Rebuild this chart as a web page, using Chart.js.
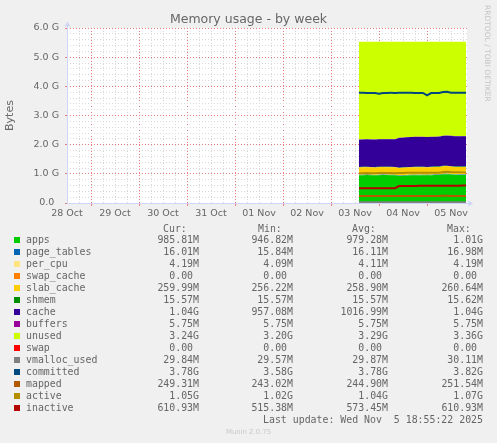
<!DOCTYPE html>
<html>
<head>
<meta charset="utf-8">
<script src="https://cdn.jsdelivr.net/npm/chart.js@4.4.1/dist/chart.umd.min.js"></script>
<style>
body{margin:0;background:#f0f0f0;width:497px;height:443px;overflow:hidden;position:relative;font-family:"DejaVu Sans",sans-serif;color:#666}
#graph{position:absolute;left:0;top:0}
.t{position:absolute;white-space:pre}
.title{left:0;width:497px;top:11px;text-align:center;font-size:12.5px;line-height:16px;color:#666}
.rrd{left:483px;top:5px;writing-mode:vertical-rl;font-size:7.5px;line-height:9px;color:#c4c4c4}
.mono{font-family:"DejaVu Sans Mono",monospace;font-size:9.9px;line-height:12px;color:#666}
.sq{position:absolute;width:6px;height:6px}
.ver{left:0;width:497px;top:427px;text-align:center;font-size:6.9px;line-height:10px;color:#c8c8c8}
</style>
</head>
<body>
<canvas id="graph" width="497" height="225"></canvas>
<div class="t title">Memory usage - by week</div>
<div class="t rrd">RRDTOOL / TOBI OETIKER</div>
<div id="legend"></div>
<div class="t ver">Munin 2.0.75</div>
<script>
// hours since 28 Oct 00:00
var times = [158,160,162,164,166,168,170,172,174,176,178,180,182,184,186,188,190,192,194,196,198,200,202,204,206,208,210,211.5];

// values in G (1024^3 bytes)
var apps = [0.950,0.955,0.958,0.952,0.948,0.955,0.960,0.957,0.953,0.950,0.925,0.935,0.945,0.950,0.952,0.955,0.953,0.950,0.955,0.958,0.960,0.985,0.990,0.975,0.965,0.962,0.963,0.963];
var pageTables = [0.0155,0.0156,0.0157,0.0156,0.0155,0.0158,0.0160,0.0157,0.0156,0.0155,0.0157,0.0158,0.0160,0.0162,0.0158,0.0157,0.0156,0.0158,0.0159,0.0160,0.0163,0.0166,0.0162,0.0158,0.0157,0.0156,0.0156,0.0156];
var perCpu = [0.0040,0.0040,0.0040,0.0040,0.0040,0.0040,0.0040,0.0040,0.0040,0.0040,0.0040,0.0040,0.0040,0.0040,0.0040,0.0040,0.0040,0.0040,0.0040,0.0040,0.0040,0.0040,0.0040,0.0040,0.0040,0.0041,0.0041,0.0041];
var swapCache = [0,0,0,0,0,0,0,0,0,0,0,0,0,0,0,0,0,0,0,0,0,0,0,0,0,0,0,0];
var slabCache = [0.2503,0.2505,0.2508,0.2510,0.2512,0.2515,0.2518,0.2520,0.2522,0.2525,0.2528,0.2530,0.2532,0.2530,0.2528,0.2530,0.2533,0.2535,0.2537,0.2540,0.2542,0.2545,0.2543,0.2540,0.2538,0.2538,0.2539,0.2539];
var shmem = [0.0152,0.0152,0.0152,0.0152,0.0152,0.0152,0.0152,0.0152,0.0152,0.0152,0.0152,0.0152,0.0152,0.0152,0.0152,0.0152,0.0153,0.0152,0.0152,0.0152,0.0152,0.0152,0.0152,0.0152,0.0152,0.0152,0.0152,0.0152];
var cache = [0.935,0.937,0.938,0.940,0.940,0.942,0.943,0.944,0.945,0.946,1.015,1.018,1.020,1.021,1.022,1.023,1.024,1.022,1.020,1.021,1.024,1.027,1.030,1.032,1.034,1.036,1.038,1.040];
var buffers = [0.0056,0.0056,0.0056,0.0056,0.0056,0.0056,0.0056,0.0056,0.0056,0.0056,0.0056,0.0056,0.0056,0.0056,0.0056,0.0056,0.0056,0.0056,0.0056,0.0056,0.0056,0.0056,0.0056,0.0056,0.0056,0.0056,0.0056,0.0056];
var unused = [3.354,3.347,3.343,3.347,3.350,3.341,3.335,3.337,3.339,3.341,3.297,3.284,3.271,3.266,3.263,3.259,3.259,3.264,3.261,3.257,3.251,3.223,3.215,3.229,3.237,3.238,3.235,3.233];
var swap = [0,0,0,0,0,0,0,0,0,0,0,0,0,0,0,0,0,0,0,0,0,0,0,0,0,0,0,0];
var vmallocUsed = [0.0289,0.0290,0.0291,0.0291,0.0292,0.0292,0.0291,0.0290,0.0291,0.0292,0.0292,0.0293,0.0294,0.0292,0.0291,0.0291,0.0292,0.0292,0.0291,0.0291,0.0292,0.0293,0.0294,0.0292,0.0291,0.0291,0.0291,0.0291];
var committed = [3.780,3.778,3.775,3.772,3.770,3.745,3.772,3.775,3.776,3.775,3.778,3.780,3.778,3.776,3.775,3.774,3.772,3.690,3.770,3.772,3.775,3.805,3.810,3.780,3.778,3.776,3.778,3.780];
var mapped = [0.2373,0.2375,0.2378,0.2380,0.2382,0.2385,0.2388,0.2390,0.2392,0.2395,0.2398,0.2400,0.2402,0.2400,0.2398,0.2400,0.2402,0.2405,0.2408,0.2410,0.2412,0.2450,0.2456,0.2440,0.2436,0.2435,0.2435,0.2435];
var active = [1.020,1.022,1.025,1.024,1.022,1.025,1.028,1.027,1.025,1.024,1.030,1.032,1.035,1.036,1.036,1.037,1.036,1.035,1.036,1.038,1.040,1.065,1.070,1.060,1.055,1.052,1.050,1.050];
var inactive = [0.503,0.504,0.505,0.505,0.506,0.506,0.507,0.507,0.508,0.508,0.580,0.583,0.585,0.586,0.587,0.588,0.589,0.589,0.590,0.591,0.592,0.593,0.594,0.594,0.595,0.595,0.596,0.5966];

var dayLabels = ['28 Oct','29 Oct','30 Oct','31 Oct','01 Nov','02 Nov','03 Nov','04 Nov','05 Nov'];

var names = ['apps','page_tables','per_cpu','swap_cache','slab_cache','shmem','cache','buffers','unused','swap','vmalloc_used','committed','mapped','active','inactive'];
var colors = ['#00CC00','#0066B3','#FFE480','#FF8000','#FFCC00','#008F00','#330099','#990099','#CCFF00','#FF0000','#808080','#00487D','#B35A00','#B38F00','#B30000'];
var curVals = ['985.81M','16.01M','4.19M','0.00 ','259.99M','15.57M','1.04G','5.75M','3.24G','0.00 ','29.84M','3.78G','249.31M','1.05G','610.93M'];
var minVals = ['946.82M','15.84M','4.09M','0.00 ','256.22M','15.57M','957.08M','5.75M','3.20G','0.00 ','29.57M','3.58G','243.02M','1.02G','515.38M'];
var avgVals = ['979.28M','16.11M','4.11M','0.00 ','258.90M','15.57M','1016.99M','5.75M','3.29G','0.00 ','29.87M','3.78G','244.90M','1.04G','573.45M'];
var maxVals = ['1.01G','16.98M','4.19M','0.00 ','260.64M','15.62M','1.04G','5.75M','3.36G','0.00 ','30.11M','3.82G','251.54M','1.07G','610.93M'];

var areaSeries = [apps, pageTables, perCpu, swapCache, slabCache, shmem, cache, buffers, unused, swap];
var lineSeries = [vmallocUsed, committed, mapped, active, inactive];

function points(vals) {
    return vals.map((v, i) => ({x: times[i], y: v}));
}

var datasets = [];
areaSeries.forEach((vals, i) => {
    datasets.push({
        label: names[i],
        data: points(vals),
        stack: 'mem',
        fill: i === 0 ? 'origin' : '-1',
        backgroundColor: colors[i],
        borderColor: colors[i],
        borderWidth: 0,
        pointRadius: 0
    });
});
lineSeries.forEach((vals, j) => {
    var i = j + areaSeries.length;
    datasets.push({
        label: names[i],
        data: points(vals),
        stack: 'line' + j,
        fill: false,
        borderColor: colors[i],
        borderWidth: 2,
        pointRadius: 0,
        order: -1 - j
    });
});

var xTicks = [];
for (var h = 12; h <= 210; h += 6) xTicks.push(h);
var yTicks = [];
for (var k = 0; k <= 30; k++) yTicks.push(k / 5);

var MAJOR = 'rgb(230,125,125)';
var MINOR = '#d9d9d9';
var AXIS = '#CFD6F8';

function isMajorY(ctx) {
    return ctx.tick && Math.abs(ctx.tick.value - Math.round(ctx.tick.value)) < 1e-6;
}
function isMajorX(ctx) {
    return ctx.tick && Math.round(ctx.tick.value) % 24 === 0;
}

var frame = {
    id: 'frame',
    beforeDraw(chart) {
        var a = chart.chartArea, c = chart.ctx;
        c.save();
        c.fillStyle = '#ffffff';
        c.fillRect(a.left, a.top, a.right - a.left, a.bottom - a.top);
        c.restore();
    },
    afterDraw(chart) {
        var a = chart.chartArea, c = chart.ctx;
        c.save();
        c.strokeStyle = AXIS;
        c.fillStyle = AXIS;
        c.lineWidth = 1;
        c.beginPath();
        c.moveTo(a.left + 0.5, a.bottom);
        c.lineTo(a.left + 0.5, a.top - 2);
        c.moveTo(a.left, a.bottom + 0.5);
        c.lineTo(a.right + 2, a.bottom + 0.5);
        c.stroke();
        c.beginPath();
        c.moveTo(a.left + 0.5, a.top - 6.5);
        c.lineTo(a.left - 2.5, a.top - 1.5);
        c.lineTo(a.left + 3.5, a.top - 1.5);
        c.closePath();
        c.fill();
        c.beginPath();
        c.moveTo(a.right + 6, a.bottom + 0.5);
        c.lineTo(a.right + 1.5, a.bottom - 2.5);
        c.lineTo(a.right + 1.5, a.bottom + 3.5);
        c.closePath();
        c.fill();
        c.restore();
    }
};

var tickFont = {family: 'DejaVu Sans', size: 9.5};

new Chart(document.getElementById('graph').getContext('2d'), {
    type: 'line',
    data: {datasets: datasets},
    options: {
        responsive: false,
        animation: false,
        layout: {padding: {top: 28, right: 30, left: 0, bottom: 0}},
        plugins: {legend: {display: false}, tooltip: {enabled: false}},
        scales: {
            x: {
                type: 'linear', min: 12, max: 212, z: 1,
                afterFit: s => { s.height = 22; },
                afterBuildTicks: s => { s.ticks = xTicks.map(v => ({value: v})); },
                grid: {
                    color: ctx => isMajorX(ctx) ? MAJOR : MINOR,
                    tickColor: ctx => isMajorX(ctx) ? MAJOR : 'rgba(0,0,0,0)',
                    tickLength: 3,
                    lineWidth: 1
                },
                border: {display: false, dash: [1, 2]},
                ticks: {
                    autoSkip: false, maxRotation: 0, padding: 2, color: '#666', font: tickFont,
                    callback: v => (v - 12) % 24 === 0 ? dayLabels[(v - 12) / 24] : ''
                }
            },
            y: {
                stacked: true, min: 0, max: 6, z: 1,
                afterFit: s => { s.width = 67; },
                afterBuildTicks: s => { s.ticks = yTicks.map(v => ({value: v})); },
                grid: {
                    color: ctx => isMajorY(ctx) ? MAJOR : MINOR,
                    tickColor: ctx => isMajorY(ctx) ? MAJOR : 'rgba(0,0,0,0)',
                    tickLength: 2,
                    lineWidth: 1
                },
                border: {display: false, dash: [1, 2]},
                title: {display: true, text: 'Bytes', color: '#666', font: {family: 'DejaVu Sans', size: 11}},
                ticks: {
                    autoSkip: false, padding: 6, color: '#666', font: tickFont,
                    callback: v => {
                        if (Math.abs(v - Math.round(v)) > 1e-6) return '';
                        return v === 0 ? '0.0\u2002' : v.toFixed(1) + ' G';
                    }
                }
            }
        }
    },
    plugins: [frame]
});

// legend table below the graph
var legend = document.getElementById('legend');
function addText(cls, text, style) {
    var d = document.createElement('div');
    d.className = 't ' + cls;
    d.textContent = text;
    d.setAttribute('style', style);
    legend.appendChild(d);
}
[['Cur:', 163], ['Min:', 258], ['Avg:', 352], ['Max:', 447]].forEach(hd => {
    addText('mono', hd[0], 'left:' + hd[1] + 'px;top:222.5px');
});
var rights = [199, 293, 388, 483];
names.forEach((n, i) => {
    var cy = 240 + 12 * i;
    var sq = document.createElement('div');
    sq.className = 'sq';
    sq.setAttribute('style', 'left:14px;top:' + (cy - 3) + 'px;background:' + colors[i]);
    legend.appendChild(sq);
    addText('mono', n, 'left:26px;top:' + (cy - 6) + 'px');
    [curVals, minVals, avgVals, maxVals].forEach((col, c) => {
        addText('mono', col[i], 'right:' + (497 - rights[c]) + 'px;top:' + (cy - 6) + 'px;text-align:right');
    });
});
addText('mono', 'Last update: Wed Nov  5 18:55:22 2025', 'right:14px;top:413.5px;text-align:right');
</script>
</body>
</html>
